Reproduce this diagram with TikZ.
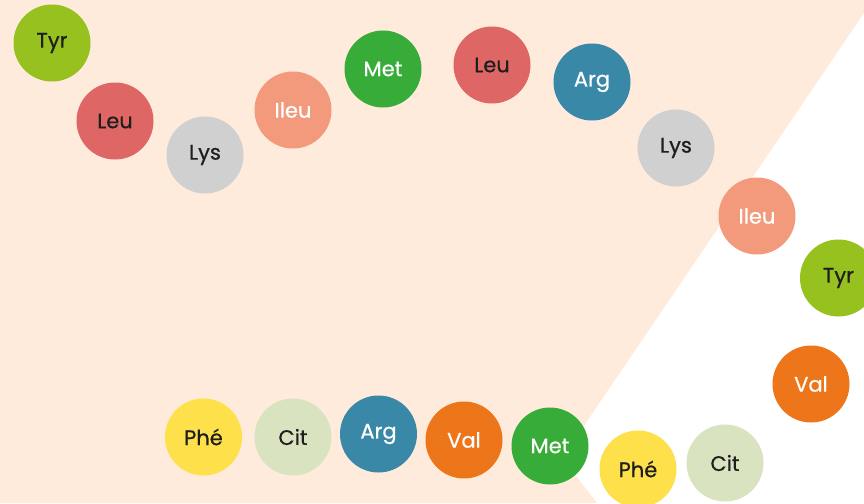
\documentclass[tikz,border=0pt]{standalone}
\usepackage{fontspec}
\setmainfont{Poppins}
\newfontfamily\aafont{Poppins}[FakeBold=0.6]
\definecolor{bgpeach}{HTML}{FEEBDB}
\definecolor{ctyr}{HTML}{96C11F}
\definecolor{cleu}{HTML}{DE6664}
\definecolor{clys}{HTML}{D0D0D0}
\definecolor{cileu}{HTML}{F29A7B}
\definecolor{cmet}{HTML}{38AC38}
\definecolor{carg}{HTML}{3A88A8}
\definecolor{cval}{HTML}{EE761A}
\definecolor{cphe}{HTML}{FDE04A}
\definecolor{ccit}{HTML}{D9E3C0}
\definecolor{dtext}{HTML}{1E1E1E}
\begin{document}
\begin{tikzpicture}[x=1pt,y=-1pt,
  aa/.style={circle,minimum size=77pt,inner sep=0pt,font=\aafont\fontsize{21}{21}\selectfont},
  dk/.style={aa,text=dtext},
  wt/.style={aa,text=white}]
\useasboundingbox (0,0) rectangle (864,503);
\fill[white] (0,0) rectangle (864,503);
\fill[bgpeach] (0,0) -- (864,0) -- (864,13) -- (562,458) -- (597,503) -- (0,503) -- cycle;
\node[dk,fill=ctyr]  (tyr1)  at (52,43)   {Tyr};
\node[dk,fill=cleu]  (leu1)  at (115,121) {Leu};
\node[dk,fill=clys]  (lys1)  at (205,155) {Lys};
\node[wt,fill=cileu] (ileu1) at (293,110) {Ileu};
\node[wt,fill=cmet]  (met1)  at (383,69)  {Met};
\node[dk,fill=cleu]  (leu2)  at (492,65)  {Leu};
\node[wt,fill=carg]  (arg1)  at (592,82)  {Arg};
\node[dk,fill=clys]  (lys2)  at (676,148) {Lys};
\node[wt,fill=cileu] (ileu2) at (757,216) {Ileu};
\node[dk,fill=ctyr]  (tyr2)  at (838.5,278) {Tyr};
\node[wt,fill=cval]  (val1)  at (811,384) {Val};
\node[dk,fill=ccit]  (cit1)  at (725,463) {Cit};
\node[dk,fill=cphe]  (phe1)  at (638,469) {Phé};
\node[wt,fill=cmet]  (met2)  at (550,446) {Met};
\node[wt,fill=cval]  (val2)  at (464,440) {Val};
\node[wt,fill=carg]  (arg2)  at (378.5,434) {Arg};
\node[dk,fill=ccit]  (cit2)  at (293,437) {Cit};
\node[dk,fill=cphe]  (phe2)  at (203.5,437) {Phé};
\end{tikzpicture}
\end{document}
